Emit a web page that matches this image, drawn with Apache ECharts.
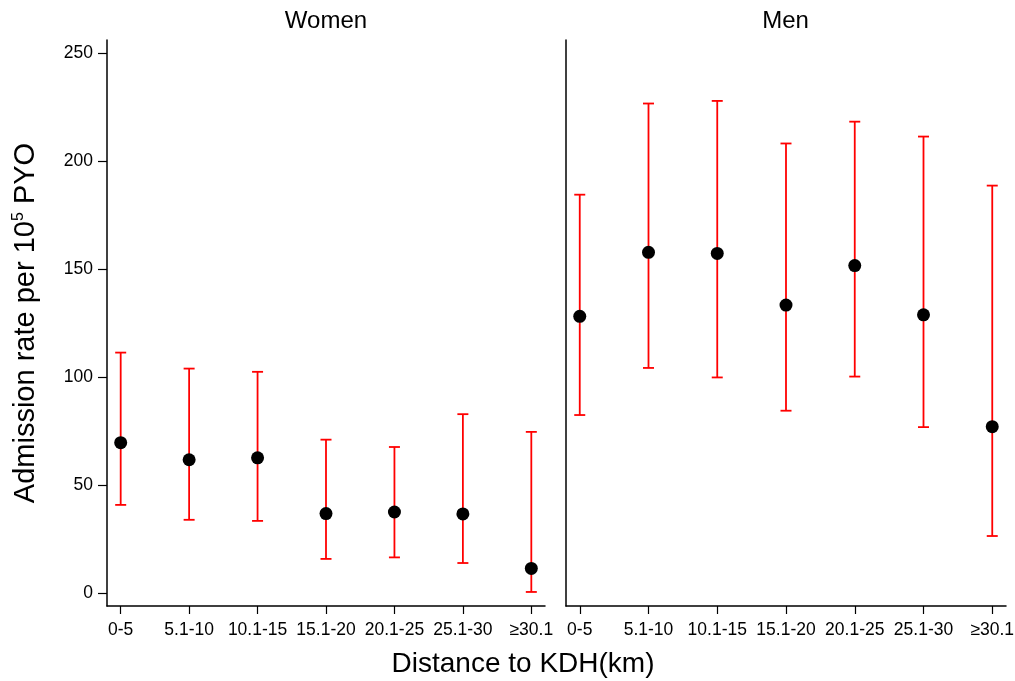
<!DOCTYPE html>
<html><head><meta charset="utf-8">
<script src="https://cdn.jsdelivr.net/npm/echarts@6/dist/echarts.min.js"></script>
<style>html,body{margin:0;padding:0;background:#fff}#c{width:1015px;height:681px}</style>
</head><body><div id="c"></div>
<script>
const categories = ['0-5','5.1-10','10.1-15','15.1-20','20.1-25','25.1-30','≥30.1'];
const panels = ['Women','Men'];
const womenRate = [69.6, 61.7, 62.6, 36.8, 37.5, 36.6, 11.4];
const womenLower = [40.8, 33.9, 33.4, 15.8, 16.5, 13.9, 0.5];
const womenUpper = [111.3, 103.9, 102.4, 71.0, 67.6, 82.8, 74.6];
const menRate = [128.1, 157.7, 157.2, 133.3, 151.6, 128.8, 77.0];
const menLower = [82.4, 104.2, 99.8, 84.4, 100.2, 76.8, 26.4];
const menUpper = [184.4, 226.6, 227.8, 208.1, 218.2, 211.3, 188.6];
const yTicks = [0, 50, 100, 150, 200, 250];

const FONT = 'Liberation Sans, Arial, Helvetica, sans-serif';
const chart = echarts.init(document.getElementById('c'));
const idx = categories.map((_, i) => i);

function xAxis(gi) {
  return {
    type: 'value', gridIndex: gi, min: -0.2, max: 6.2,
    splitLine: {show: false},
    axisLine: {show: true, onZero: false, lineStyle: {color: '#000', width: 1.5}},
    axisTick: {show: true, customValues: idx, length: 8, lineStyle: {color: '#000', width: 1.2}},
    axisLabel: {show: true, customValues: idx, formatter: v => categories[Math.round(v)],
      color: '#000', fontSize: 17.5, fontFamily: FONT, margin: 15, hideOverlap: false}
  };
}
function yAxis(gi, showLabels) {
  const o = {
    type: 'value', gridIndex: gi, min: -6, max: 256,
    splitLine: {show: false},
    axisLine: {show: true, onZero: false, lineStyle: {color: '#000', width: 1.5}},
    axisTick: {show: showLabels, customValues: yTicks, length: 9, lineStyle: {color: '#000', width: 1.2}},
    axisLabel: {show: showLabels, customValues: yTicks, color: '#000', fontSize: 17.5, fontFamily: FONT, margin: 14}
  };
  if (showLabels) {
    o.name = '{b|Admission rate per 10}{s|5}{b| PYO}';
    o.nameLocation = 'middle';
    o.nameRotate = 90;
    o.nameGap = 67;
    o.nameTextStyle = {rich: {
      b: {fontSize: 29, fontFamily: FONT, color: '#000'},
      s: {fontSize: 16, fontFamily: FONT, color: '#000', verticalAlign: 'top', padding: [0, 0, 12, 0]}
    }};
  }
  return o;
}
function errSeries(gi, lo, hi) {
  return {
    type: 'custom', xAxisIndex: gi, yAxisIndex: gi,
    data: idx.map(i => [i, lo[i], hi[i]]),
    renderItem: function (params, api) {
      const x = api.value(0);
      const pLo = api.coord([x, api.value(1)]);
      const pHi = api.coord([x, api.value(2)]);
      const hw = 5.5;
      const st = {stroke: '#ff0000', lineWidth: 1.8};
      return {type: 'group', children: [
        {type: 'line', shape: {x1: pLo[0], y1: pLo[1], x2: pHi[0], y2: pHi[1]}, style: st},
        {type: 'line', shape: {x1: pLo[0]-hw, y1: pLo[1], x2: pLo[0]+hw, y2: pLo[1]}, style: st},
        {type: 'line', shape: {x1: pHi[0]-hw, y1: pHi[1], x2: pHi[0]+hw, y2: pHi[1]}, style: st}
      ]};
    },
    z: 2
  };
}
function ptSeries(gi, vals) {
  return {
    type: 'scatter', xAxisIndex: gi, yAxisIndex: gi,
    data: idx.map(i => [i, vals[i]]),
    symbol: 'circle', symbolSize: 13,
    itemStyle: {color: '#000', opacity: 1},
    z: 5
  };
}
function label(text, x, y, size) {
  return {type: 'text', x: x, y: y, style: {text: text, fontSize: size, fontFamily: FONT, fill: '#000', align: 'center', verticalAlign: 'middle'}};
}

chart.setOption({
  backgroundColor: '#fff',
  animation: false,
  grid: [
    {left: 107, top: 40, width: 438, height: 566, containLabel: false, outerBoundsMode: 'none'},
    {left: 566, top: 40, width: 440, height: 566, containLabel: false, outerBoundsMode: 'none'}
  ],
  xAxis: [xAxis(0), xAxis(1)],
  yAxis: [yAxis(0, true), yAxis(1, false)],
  graphic: [
    label(panels[0], 326, 21, 24),
    label(panels[1], 785.5, 21, 24),
    label('Distance to KDH(km)', 523, 664, 28)
  ],
  series: [errSeries(0, womenLower, womenUpper), ptSeries(0, womenRate),
           errSeries(1, menLower, menUpper), ptSeries(1, menRate)]
});
</script></body></html>
